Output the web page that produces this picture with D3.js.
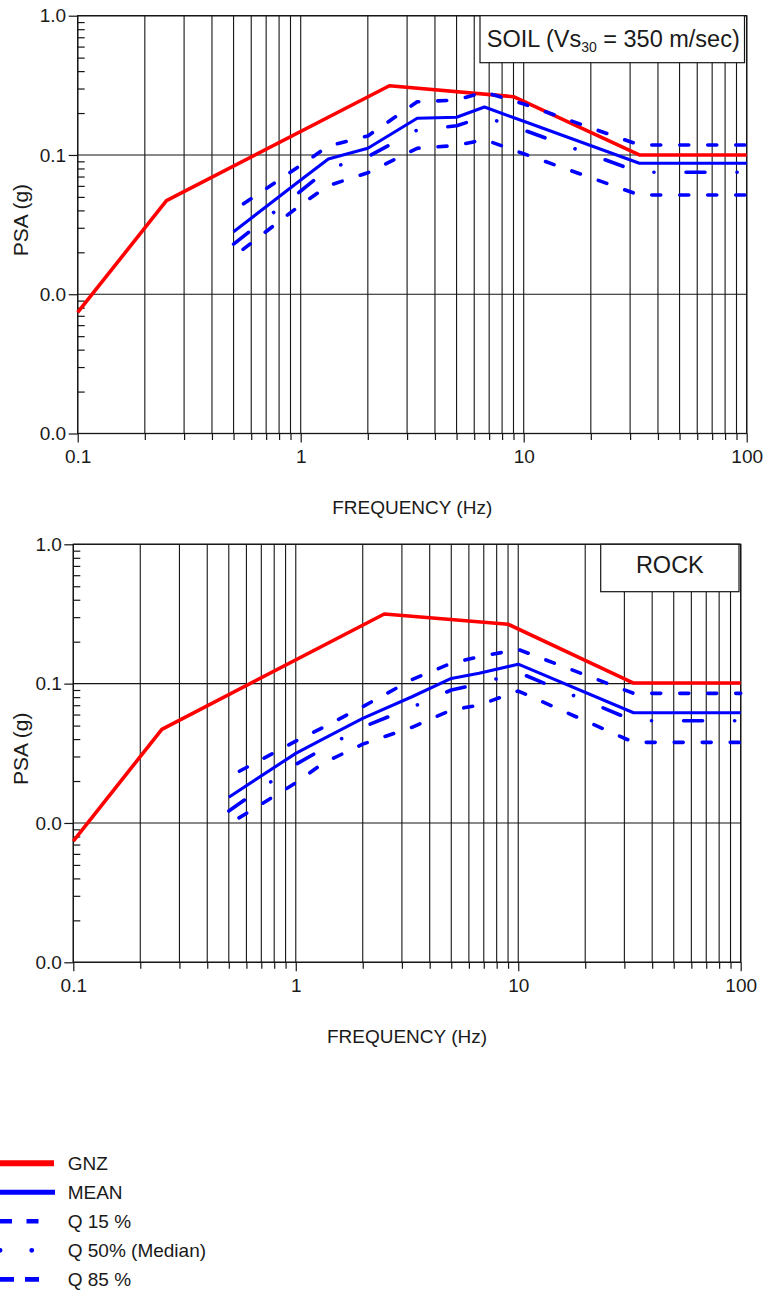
<!DOCTYPE html>
<html><head><meta charset="utf-8">
<script src="https://cdn.jsdelivr.net/npm/d3@7"></script>
<style>
html,body{margin:0;padding:0;background:#fff;}
svg{display:block;}
text{font-family:"Liberation Sans", Arial, sans-serif; fill:#1a1a1a;}
</style></head><body>
<svg id="chart" width="765" height="1290"></svg>
<script>
// ---------- DATA ----------
const xTickLabels = ["0.1", "1", "10", "100"];
const yTickLabels = ["1.0", "0.1", "0.0", "0.0"];
const xMajorTicks = [0.1, 1, 10, 100];
const yMajorTicks = [1, 0.1, 0.01, 0.001];

const gnzFreq = [0.1, 0.25, 2.5, 9, 33, 100];
const soilGNZ = [0.0074, 0.047, 0.314, 0.262, 0.1, 0.1];
const rockGNZ = [0.0074, 0.047, 0.316, 0.267, 0.101, 0.101];

const frequencies = [0.5, 1, 1.33, 2, 3.33, 5, 6.67, 10, 33, 100];
const soilMean = [0.0281, 0.0662, 0.0936, 0.1117, 0.1834, 0.1866, 0.221, 0.1745, 0.0872, 0.0872];
const soilQ15  = [0.0186, 0.0439, 0.0602, 0.0746, 0.1117, 0.117, 0.129, 0.102, 0.0516, 0.0516];
const soilQ50  = [0.0229, 0.0551, 0.0797, 0.0973, 0.151, 0.162, 0.188, 0.151, 0.0751, 0.0751];
const soilQ85  = [0.0399, 0.0843, 0.116, 0.137, 0.241, 0.248, 0.283, 0.232, 0.118, 0.118];

const rockMean = [0.0153, 0.0316, 0.0401, 0.0563, 0.0805, 0.109, 0.1186, 0.138, 0.0618, 0.0618];
const rockQ15  = [0.0098, 0.0194, 0.0269, 0.0368, 0.0486, 0.0646, 0.0702, 0.0885, 0.0379, 0.0379];
const rockQ50  = [0.0122, 0.0263, 0.0341, 0.0488, 0.0676, 0.090, 0.0993, 0.1205, 0.0542, 0.0542];
const rockQ85  = [0.0214, 0.0387, 0.0486, 0.0683, 0.107, 0.140, 0.156, 0.176, 0.0852, 0.0852];

const seriesNames = ["GNZ", "MEAN", "Q15", "Q50", "Q85"];
const legendLabels = ["GNZ", "MEAN", "Q 15 %", "Q 50% (Median)", "Q 85 %"];

// ---------- STYLES ----------
const styles = {
  GNZ:  {color: "#ff0000", width: 3.6, dash: null, offset: 0},
  MEAN: {color: "#0000ff", width: 3.1, dash: null, offset: 0},
  Q15:  {color: "#0000ff", width: 3.6, dash: "9,19", offset: 16},
  Q50:  {color: "#0000ff", width: 3.6, dash: "19,32,0.1,32", offset: 0},
  Q85:  {color: "#0000ff", width: 3.6, dash: "9,19", offset: 16}
};
const legendStyles = {
  GNZ:  {width: 6, dash: null, x2: 54},
  MEAN: {width: 5, dash: null, x2: 55},
  Q15:  {width: 4.5, dash: "12,14.5", x2: 40},
  Q50:  {width: 4.8, dash: "0.1,31.6", x2: 32},
  Q85:  {width: 4.8, dash: "14,11", x2: 40}
};

const panels = [
  {left: 77.7, right: 746.7, top: 15.7, bottom: 433.5, label: "soil",
   box: {x: 480, w: 264.5, h: 47},
   gnz: soilGNZ, mean: soilMean, q15: soilQ15, q50: soilQ50, q85: soilQ85},
  {left: 73.3, right: 740.7, top: 544.3, bottom: 962.3, label: "rock",
   box: {x: 600.7, w: 138.3, h: 47.4},
   gnz: rockGNZ, mean: rockMean, q15: rockQ15, q50: rockQ50, q85: rockQ85}
];

const svg = d3.select("#chart");
const ink = "#151515";

panels.forEach(p => {
  const x = d3.scaleLog().domain([0.1, 100]).range([p.left, p.right]);
  const y = d3.scaleLog().domain([0.001, 1]).range([p.bottom, p.top]);
  const g = svg.append("g");
  const allX = x.ticks();
  const allY = y.ticks();
  const minorX = allX.filter(v => !xMajorTicks.some(m => Math.abs(m - v) < 1e-9));
  const minorY = allY.filter(v => !yMajorTicks.some(m => Math.abs(m - v) < 1e-9));

  // vertical grid at every tick
  g.append("g").selectAll("line").data(allX).join("line")
    .attr("x1", d => x(d)).attr("x2", d => x(d))
    .attr("y1", p.top).attr("y2", p.bottom)
    .attr("stroke", ink).attr("stroke-width", 1.1);
  // horizontal grid at decades
  g.append("g").selectAll("line").data(yMajorTicks).join("line")
    .attr("x1", p.left).attr("x2", p.right)
    .attr("y1", d => y(d)).attr("y2", d => y(d))
    .attr("stroke", ink).attr("stroke-width", 1.1);

  // x axis major
  const xAxisMaj = g.append("g").attr("transform", `translate(0,${p.bottom})`)
    .call(d3.axisBottom(x).tickValues(xMajorTicks).tickSize(9).tickPadding(7.5)
      .tickFormat((d, i) => xTickLabels[i]));
  // x axis minor
  const xAxisMin = g.append("g").attr("transform", `translate(0,${p.bottom})`)
    .call(d3.axisBottom(x).tickValues(minorX).tickSize(6.5).tickFormat(""));
  // y axis major
  const yAxisMaj = g.append("g").attr("transform", `translate(${p.left},0)`)
    .call(d3.axisLeft(y).tickValues(yMajorTicks).tickSize(9).tickPadding(2.5)
      .tickFormat((d, i) => yTickLabels[i]));
  // y axis minor (inside)
  const yAxisMin = g.append("g").attr("transform", `translate(${p.left},0)`)
    .call(d3.axisRight(y).tickValues(minorY).tickSize(7).tickFormat(""));
  [xAxisMaj, xAxisMin, yAxisMaj, yAxisMin].forEach(a => {
    a.select(".domain").remove();
    a.selectAll(".tick line").attr("stroke", ink).attr("stroke-width", 1.2);
    a.selectAll(".tick text").attr("font-size", 19).attr("fill", "#1a1a1a")
      .attr("font-family", '"Liberation Sans", Arial, sans-serif');
  });

  // frame
  g.append("rect").attr("x", p.left).attr("y", p.top)
    .attr("width", p.right - p.left).attr("height", p.bottom - p.top)
    .attr("fill", "none").attr("stroke", ink).attr("stroke-width", 1.3);

  // series lines
  const line = d3.line().x(d => x(d[0])).y(d => y(d[1]));
  const seriesData = {
    GNZ: d3.zip(gnzFreq, p.gnz),
    MEAN: d3.zip(frequencies, p.mean),
    Q15: d3.zip(frequencies, p.q15),
    Q50: d3.zip(frequencies, p.q50),
    Q85: d3.zip(frequencies, p.q85)
  };
  ["GNZ", "Q15", "Q85", "Q50", "MEAN"].forEach(name => {
    const s = styles[name];
    const path = g.append("path").datum(seriesData[name])
      .attr("d", line).attr("fill", "none")
      .attr("stroke", s.color).attr("stroke-width", s.width)
      .attr("stroke-linejoin", "round");
    if (s.dash) {
      path.attr("stroke-dasharray", s.dash).attr("stroke-dashoffset", s.offset)
        .attr("stroke-linecap", "round");
    }
  });

  // label box
  g.append("rect").attr("x", p.box.x).attr("y", p.top)
    .attr("width", p.box.w).attr("height", p.box.h)
    .attr("fill", "#fff").attr("stroke", ink).attr("stroke-width", 1.2);
  const cx = p.box.x + p.box.w / 2;
  if (p.label === "soil") {
    const t = g.append("text").attr("x", cx + 1).attr("y", p.top + 31)
      .attr("text-anchor", "middle").attr("font-size", 23.5);
    t.append("tspan").text("SOIL (Vs");
    t.append("tspan").attr("font-size", 14).attr("dy", 5).text("30");
    t.append("tspan").attr("dy", -5).text(" = 350 m/sec)");
  } else {
    g.append("text").attr("x", cx).attr("y", p.top + 29)
      .attr("text-anchor", "middle").attr("font-size", 23.5).text("ROCK");
  }

  // axis titles
  g.append("text").attr("x", (p.left + p.right) / 2).attr("y", p.bottom + 80.5)
    .attr("text-anchor", "middle").attr("font-size", 19).text("FREQUENCY (Hz)");
  g.append("text")
    .attr("transform", `translate(28.3,${(p.top + p.bottom) / 2 - 4.5}) rotate(-90)`)
    .attr("text-anchor", "middle").attr("font-size", 21).text("PSA (g)");
});

// ---------- LEGEND ----------
const legend = svg.append("g");
seriesNames.forEach((name, i) => {
  const yy = 1163.3 + i * 29;
  const ls = legendStyles[name];
  const l = legend.append("line").attr("x1", 0).attr("x2", ls.x2)
    .attr("y1", yy).attr("y2", yy)
    .attr("stroke", styles[name].color).attr("stroke-width", ls.width);
  if (ls.dash) l.attr("stroke-dasharray", ls.dash);
  if (name === "Q50") l.attr("stroke-linecap", "round");
  legend.append("text").attr("x", 67.7).attr("y", yy + 6.5)
    .attr("font-size", 19).text(legendLabels[i]);
});
</script>
</body></html>
